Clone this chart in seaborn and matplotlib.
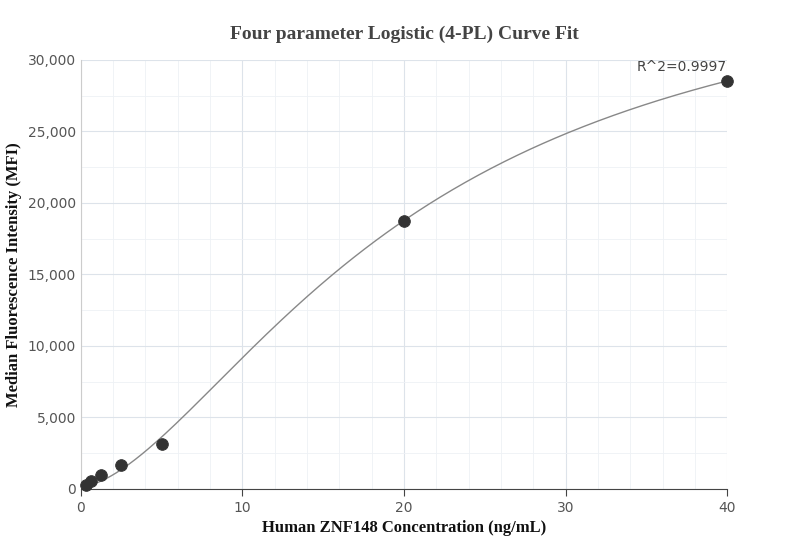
import numpy as np
import pandas as pd
import matplotlib
matplotlib.use("Agg")
import matplotlib.pyplot as plt
import seaborn as sns
from matplotlib.ticker import MultipleLocator, FuncFormatter

conc = [0.3125, 0.625, 1.25, 2.5, 5, 20, 40]
mfi = [300, 550, 950, 1700, 3150, 18700, 28500]
# 4PL parameters (estimated): bottom A, slope B, midpoint C, top D
A, B, C, D = 150, 1.63, 20.4, 38000

df = pd.DataFrame({"x": conc, "y": mfi})
xs = np.linspace(min(conc), max(conc), 300)
curve = pd.DataFrame({"x": xs, "y": D + (A - D) / (1 + (xs / C) ** B)})

fig = plt.figure(figsize=(8.08, 5.6), dpi=100)
ax = fig.add_axes([0.100, 0.127, 0.800, 0.766])
sns.lineplot(data=curve, x="x", y="y", ax=ax, color="#888888", linewidth=1)
sns.scatterplot(data=df, x="x", y="y", ax=ax, color="#333333", s=70, edgecolor="#333333", zorder=5, clip_on=False)

ax.set_xlim(0, 40)
ax.set_ylim(0, 30000)
ax.xaxis.set_major_locator(MultipleLocator(10))
ax.xaxis.set_minor_locator(MultipleLocator(2))
ax.yaxis.set_major_locator(MultipleLocator(5000))
ax.yaxis.set_minor_locator(MultipleLocator(2500))
ax.yaxis.set_major_formatter(FuncFormatter(lambda v, p: f"{int(v):,}"))
ax.grid(which="major", color="#dde3ea", linewidth=0.8)
ax.grid(which="minor", color="#eef1f5", linewidth=0.6)
ax.set_axisbelow(True)
for s in ["top", "right"]:
    ax.spines[s].set_visible(False)
ax.spines["left"].set_color("#cccccc")
ax.spines["bottom"].set_color("#444444")
ax.tick_params(which="both", length=0, labelsize=10, colors="#555555")
ax.tick_params(axis="x", which="major", length=5, color="#444444")

serif = "Liberation Serif"
ax.set_xlabel("Human ZNF148 Concentration (ng/mL)", fontfamily=serif, fontweight="bold", fontsize=12, color="#111111")
ax.set_ylabel("Median Fluorescence Intensity (MFI)", fontfamily=serif, fontweight="bold", fontsize=12, color="#111111")
fig.suptitle("Four parameter Logistic (4-PL) Curve Fit", x=0.5, y=0.955, fontfamily=serif, fontweight="bold", fontsize=14, color="#444444")
ax.text(40, 29000, "R^2=0.9997", ha="right", va="bottom", fontsize=10, color="#444444")
fig.savefig("out.png", dpi=100)
